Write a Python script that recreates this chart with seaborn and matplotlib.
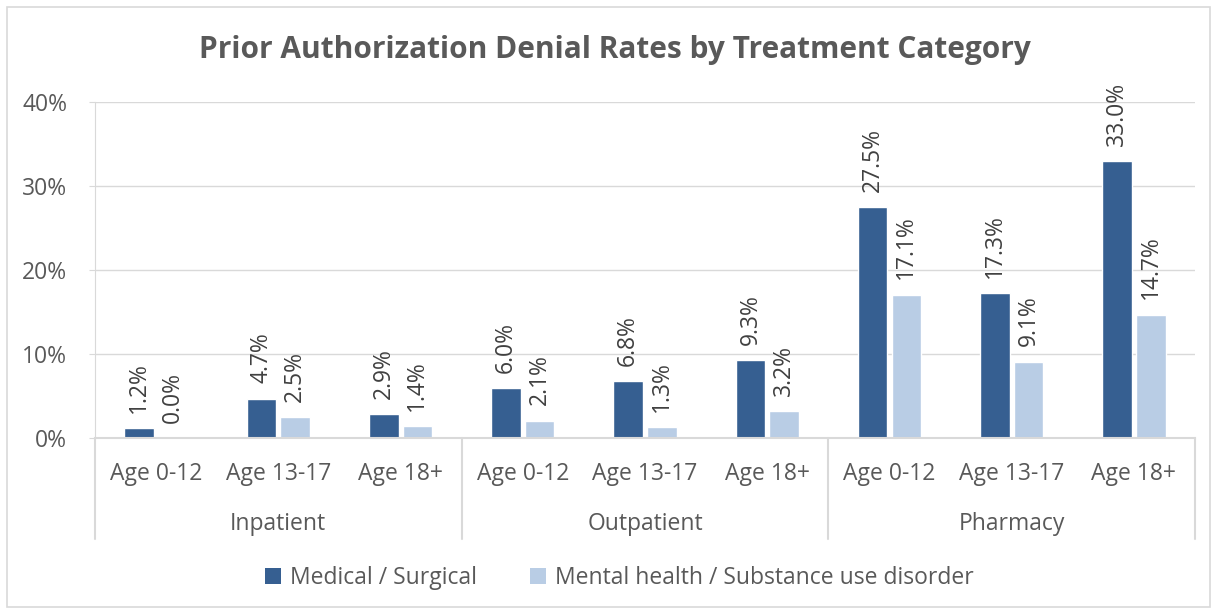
import matplotlib
matplotlib.use("Agg")
import matplotlib.pyplot as plt
import matplotlib.transforms as mtransforms
from matplotlib.patches import Rectangle, Patch
import seaborn as sns
import pandas as pd

# values (percent)
settings = ["Inpatient", "Outpatient", "Pharmacy"]
ages = ["Age 0-12", "Age 13-17", "Age 18+"]
series = ["Medical / Surgical", "Mental health / Substance use disorder"]
medical = [1.2, 4.7, 2.9, 6.0, 6.8, 9.3, 27.5, 17.3, 33.0]
mental = [0.0, 2.5, 1.4, 2.1, 1.3, 3.2, 17.1, 9.1, 14.7]
colors = ["#365F91", "#B9CDE5"]

rows = []
i = 0
for s in settings:
    for a in ages:
        key = s + "|" + a
        rows.append({"cat": key, "series": series[0], "rate": medical[i]})
        rows.append({"cat": key, "series": series[1], "rate": mental[i]})
        i += 1
df = pd.DataFrame(rows)
order = [s + "|" + a for s in settings for a in ages]

sns.set_style("white")
plt.rcParams["font.family"] = ["Open Sans", "DejaVu Sans"]
txt = "#595959"
fs = 16.5

fig = plt.figure(figsize=(12.17, 6.12), dpi=100)
ax = fig.add_axes([0.078, 0.284, 0.904, 0.549])

sns.barplot(data=df, x="cat", y="rate", hue="series", order=order,
            hue_order=series, palette=colors, width=0.55, gap=0.12,
            saturation=1, ax=ax, legend=False)

for cont in ax.containers:
    ax.bar_label(cont, labels=[f"{v:.1f}%" for v in cont.datavalues],
                 rotation=90, padding=11, fontsize=fs, color="#404040")

ax.set_xlim(-0.5, len(order) - 0.5)
ax.set_ylim(0, 40)
ax.set_yticks([0, 10, 20, 30, 40])
ax.set_yticklabels([f"{t}%" for t in [0, 10, 20, 30, 40]])
ax.yaxis.grid(True, color="#D9D9D9", linewidth=1)
ax.set_axisbelow(True)
ax.set_xlabel("")
ax.set_ylabel("")
ax.set_xticks(range(len(order)))
ax.set_xticklabels([a for s in settings for a in ages])
ax.tick_params(axis="x", length=0, pad=17, labelsize=fs, labelcolor=txt)
ax.tick_params(axis="y", length=4, direction="out", color="#D9D9D9",
               labelsize=fs, labelcolor=txt, pad=16, left=True)
for side in ["top", "right"]:
    ax.spines[side].set_visible(False)
ax.spines["left"].set_color("#D9D9D9")
ax.spines["bottom"].set_color("#D9D9D9")
ax.spines["bottom"].set_linewidth(1.5)

# group labels and separators under the axis
tr = mtransforms.blended_transform_factory(ax.transData, ax.transAxes)
for k, s in enumerate(settings):
    ax.text(k * 3 + 1, -0.255, s, transform=tr, ha="center", va="center",
            fontsize=fs, color=txt)
for xb in [-0.5, 2.5, 5.5, 8.5]:
    ax.plot([xb, xb], [0, -0.30], transform=tr, color="#D9D9D9",
            linewidth=1.5, clip_on=False)

fig.text(0.505, 0.918, "Prior Authorization Denial Rates by Treatment Category",
         ha="center", va="center", fontsize=21.5, fontweight="bold", color=txt)

handles = [Patch(facecolor=c, edgecolor="none") for c in colors]
fig.legend(handles, series, loc="center", bbox_to_anchor=(0.509, 0.055),
           ncol=2, frameon=False, fontsize=fs, labelcolor=txt,
           handlelength=0.7, handleheight=0.7, handletextpad=0.4,
           columnspacing=2.3)

fig.patches.append(Rectangle((0.006, 0.008), 0.988, 0.98,
                             transform=fig.transFigure, fill=False,
                             edgecolor="#D9D9D9", linewidth=1.2))

fig.savefig("out.png", dpi=100)
